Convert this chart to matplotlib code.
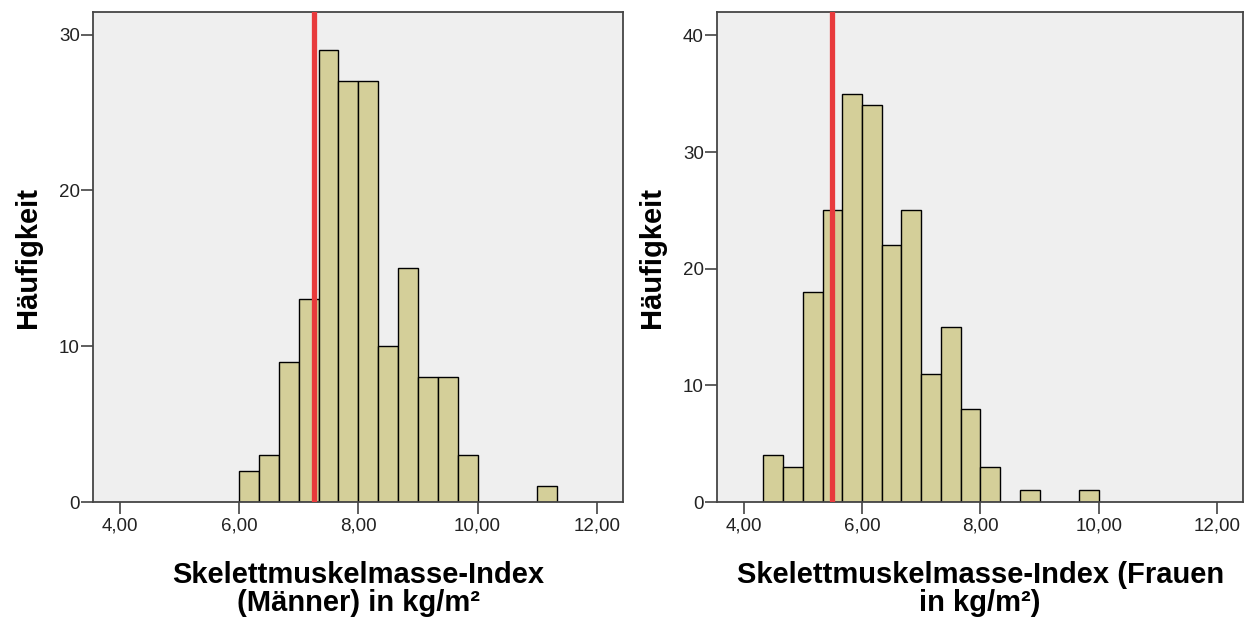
import numpy as np
import matplotlib
matplotlib.use("Agg")
import matplotlib.pyplot as plt
from matplotlib.ticker import FixedLocator, FuncFormatter

plt.rcParams['font.family'] = ['Liberation Sans', 'DejaVu Sans']

# Histogramm-Klassen (Untergrenzen) und Häufigkeiten, Klassenbreite 1/3 kg/m²
bin_width = 1 / 3
maenner_bins = [6.0, 6.333, 6.667, 7.0, 7.333, 7.667, 8.0, 8.333, 8.667,
                9.0, 9.333, 9.667, 11.0]
maenner_counts = [2, 3, 9, 13, 29, 27, 27, 10, 15, 8, 8, 3, 1]
maenner_grenzwert = 7.26

frauen_bins = [4.333, 4.667, 5.0, 5.333, 5.667, 6.0, 6.333, 6.667, 7.0,
               7.333, 7.667, 8.0, 8.667, 9.667]
frauen_counts = [4, 3, 18, 25, 35, 34, 22, 25, 11, 15, 8, 3, 1, 1]
frauen_grenzwert = 5.5

x_ticks = [4, 6, 8, 10, 12]
y_ticks_m = [0, 10, 20, 30]
y_ticks_f = [0, 10, 20, 30, 40]

bar_color = '#d4cf99'
bg_color = '#efefef'
frame_color = '#454545'
line_color = '#e83a3c'


def komma(x, pos):
    return ('%.2f' % x).replace('.', ',')


def histo(ax, bins, counts, grenze, yticks, ymax, xlabel):
    ax.set_facecolor(bg_color)
    ax.bar(bins, counts, width=bin_width, align='edge', color=bar_color,
           edgecolor='black', linewidth=1.0, zorder=2)
    ax.axvline(grenze, color=line_color, linewidth=3.8, zorder=3)
    ax.set_xlim(3.55, 12.44)
    ax.set_ylim(0, ymax)
    ax.xaxis.set_major_locator(FixedLocator(x_ticks))
    ax.xaxis.set_major_formatter(FuncFormatter(komma))
    ax.yaxis.set_major_locator(FixedLocator(yticks))
    for s in ax.spines.values():
        s.set_color(frame_color)
        s.set_linewidth(1.3)
    ax.tick_params(axis='both', direction='out', length=8.5, width=1.1,
                   color='#333333', labelsize=13.5, labelcolor='#222222')
    ax.tick_params(axis='y', pad=1)
    ax.tick_params(axis='x', pad=3)
    ax.set_ylabel('Häufigkeit', fontsize=21, fontweight='bold', labelpad=12)
    ax.set_xlabel(xlabel, fontsize=21, fontweight='bold', labelpad=19,
                  linespacing=0.98)


fig = plt.figure(figsize=(12.54, 6.21), dpi=100)
ax1 = fig.add_axes([0.0742, 0.1916, 0.4226, 0.789])
ax2 = fig.add_axes([0.5718, 0.1916, 0.4195, 0.789])

histo(ax1, maenner_bins, maenner_counts, maenner_grenzwert, y_ticks_m, 31.45,
      'Skelettmuskelmasse-Index\n(Männer) in kg/m²')
histo(ax2, frauen_bins, frauen_counts, frauen_grenzwert, y_ticks_f, 42.0,
      'Skelettmuskelmasse-Index (Frauen\nin kg/m²)')

fig.savefig('out.png', dpi=100)
